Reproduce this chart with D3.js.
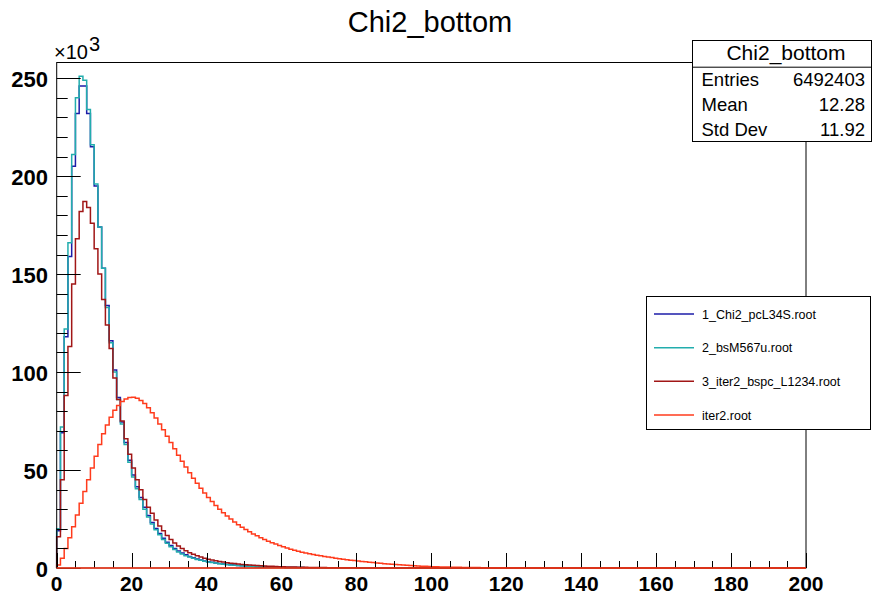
<!DOCTYPE html>
<html>
<head>
<meta charset="utf-8">
<script src="https://cdn.jsdelivr.net/npm/d3@7"></script>
<style>
  body { margin: 0; background: #fff; }
  svg { font-family: "Liberation Sans", Arial, Helvetica, sans-serif; }
  .tick-label { font-weight: bold; font-size: 22px; fill: #000; }
</style>
</head>
<body>
<svg id="chart" width="872" height="596"></svg>
<script>
// histogram contents, one entry per unit bin starting at 0, in units of 10^3 (bins not listed are empty)
let series_names = [
  "1_Chi2_pcL34S.root",
  "2_bsM567u.root",
  "3_iter2_bspc_L1234.root",
  "iter2.root"
]
let series_colors = ["#1c1ca8", "#22adad", "#a11616", "#ff3b1c"]

let vals_pcL34S = [
  19, 69, 118, 159, 205, 232, 246, 246, 232, 215, 195, 174, 153, 134, 116, 101, 87, 74.5, 64, 55,
  47.5, 41.5, 36, 31, 26.8, 23.2, 20.2, 17.6, 15.2, 13.2, 11.5, 10, 8.7, 7.6, 6.7, 5.9, 5.2, 4.6, 4.1, 3.6,
  3.2, 2.9, 2.6, 2.3, 2.05, 1.85, 1.65, 1.48, 1.32, 1.18, 1.05, 0.94, 0.84, 0.75, 0.67, 0.6, 0.54, 0.48, 0.43, 0.39,
  0.35, 0.31, 0.28, 0.25, 0.23, 0.21, 0.19, 0.17, 0.15, 0.14, 0.12
]
let vals_bsM567u = [
  20, 72, 122, 166, 211, 240, 251, 249, 234, 216, 196, 174, 153, 133, 115, 100, 86, 73.5, 63, 54,
  46.5, 40.5, 35, 30, 26, 22.5, 19.5, 17, 14.6, 12.6, 10.9, 9.4, 8.2, 7.2, 6.3, 5.6, 5, 4.4, 3.9, 3.5,
  3.1, 2.8, 2.5, 2.2, 1.95, 1.75, 1.55, 1.4, 1.25, 1.1, 0.98, 0.88, 0.78, 0.7, 0.63, 0.57, 0.51, 0.46, 0.42, 0.38,
  0.34, 0.31, 0.28, 0.25, 0.23, 0.21, 0.19, 0.17, 0.15, 0.14, 0.12
]
let vals_iter2_bspc = [
  16, 45, 88, 113, 145, 168, 182, 187, 184, 176, 163, 150, 137, 124, 112, 97, 86, 75, 66, 58,
  51, 45, 40, 35, 31, 28, 24.5, 21.5, 19, 16.6, 14.5, 12.7, 11.2, 9.9, 8.8, 7.8, 7, 6.2, 5.6, 5,
  4.5, 4.1, 3.7, 3.3, 3, 2.7, 2.45, 2.25, 2.05, 1.85, 1.68, 1.52, 1.38, 1.25, 1.13, 1.02, 0.92, 0.83, 0.75, 0.68,
  0.61, 0.55, 0.5, 0.45, 0.41, 0.37, 0.33, 0.3, 0.27, 0.24, 0.22, 0.2, 0.18, 0.16, 0.14, 0.13, 0.12, 0.11, 0.1, 0.09
]
let vals_iter2 = [
  1.5, 5, 10, 15.5, 21, 27, 33, 39, 45, 51, 57, 63, 68.5, 73, 77, 80.5, 83, 85, 86.3, 87,
  87.2, 86.6, 85.5, 84, 81.8, 79.3, 76.5, 73.5, 70.5, 67.3, 64, 60.8, 57.6, 54.5, 51.5, 48.6, 45.8, 43.2, 40.7, 38.3,
  36, 33.9, 31.9, 30, 28.2, 26.5, 25, 23.5, 22.1, 20.8, 19.6, 18.5, 17.4, 16.4, 15.4, 14.5, 13.7, 12.9, 12.2, 11.5,
  10.8, 10.2, 9.6, 9.1, 8.6, 8.1, 7.7, 7.3, 6.9, 6.5, 6.2, 5.9, 5.6, 5.3, 5, 4.75, 4.5, 4.25, 4, 3.8,
  3.6, 3.35, 3.15, 2.95, 2.75, 2.55, 2.4, 2.2, 2.05, 1.9, 1.75, 1.6, 1.48, 1.36, 1.24, 1.12, 1.02, 0.93, 0.85, 0.77,
  0.7, 0.63, 0.57, 0.51, 0.46, 0.41, 0.37, 0.33, 0.3, 0.27, 0.24, 0.22, 0.2, 0.18, 0.16, 0.15, 0.13, 0.12, 0.1, 0.09,
  0.08, 0.07, 0.06, 0.05, 0.04
]

let x_ticks = [0, 20, 40, 60, 80, 100, 120, 140, 160, 180, 200]
let y_ticks = [0, 50, 100, 150, 200, 250]

let stats_title = "Chi2_bottom"
let stats_rows = [["Entries", "6492403"], ["Mean", "12.28"], ["Std Dev", "11.92"]]

let svg = d3.select("#chart")
let nbins = 200

let frame = { left: 56.7, right: 806, top: 62.5, bottom: 568 }

let x = d3.scaleLinear().domain([0, 200]).range([frame.left, frame.right])
let y = d3.scaleLinear().domain([0, 258]).range([frame.bottom, frame.top])

// title
svg.append("text")
  .attr("x", 430).attr("y", 32)
  .attr("text-anchor", "middle")
  .style("font-size", "29px")
  .text("Chi2_bottom")

// histograms as steps
function stepPoints(vals) {
  let pts = [[x(0), y(0)]]
  for (let i = 0; i < nbins; i++) {
    let v = i < vals.length ? vals[i] : 0
    pts.push([x(i), y(v)])
    pts.push([x(i + 1), y(v)])
  }
  pts.push([x(nbins), y(0)])
  return pts
}

let all_vals = [vals_pcL34S, vals_bsM567u, vals_iter2_bspc, vals_iter2]
let line = d3.line()

svg.append("g")
  .selectAll("path")
  .data(all_vals)
  .join("path")
  .attr("d", d => line(stepPoints(d)))
  .attr("fill", "none")
  .attr("stroke", (d, i) => series_colors[i])
  .attr("stroke-width", 1.5)

// frame
svg.append("rect")
  .attr("x", frame.left).attr("y", frame.top)
  .attr("width", frame.right - frame.left)
  .attr("height", frame.bottom - frame.top)
  .attr("fill", "none")
  .attr("stroke", "#000")
  .attr("stroke-width", 1)

// y axis ticks (inside frame)
let yMinor = d3.range(0, 251, 10)
svg.append("g")
  .selectAll("line")
  .data(yMinor)
  .join("line")
  .attr("x1", frame.left)
  .attr("x2", d => frame.left + (d % 50 == 0 ? 24 : 11))
  .attr("y1", d => Math.round(y(d)) + 0.5)
  .attr("y2", d => Math.round(y(d)) + 0.5)
  .attr("stroke", "#000")

svg.append("g")
  .selectAll("text")
  .data(y_ticks)
  .join("text")
  .attr("class", "tick-label")
  .attr("x", 48)
  .attr("y", d => y(d) + 9)
  .attr("text-anchor", "end")
  .text(d => d)

// x axis ticks (pointing up)
let xMinor = d3.range(0, 201, 5)
svg.append("g")
  .selectAll("line")
  .data(xMinor)
  .join("line")
  .attr("x1", d => Math.round(x(d)) + 0.5)
  .attr("x2", d => Math.round(x(d)) + 0.5)
  .attr("y1", frame.bottom)
  .attr("y2", d => frame.bottom - (d % 20 == 0 ? 15 : 7))
  .attr("stroke", "#000")

svg.append("g")
  .selectAll("text")
  .data(x_ticks)
  .join("text")
  .attr("class", "tick-label")
  .attr("x", d => x(d))
  .attr("y", 591)
  .attr("text-anchor", "middle")
  .style("font-size", "21px")
  .text(d => d)

// zero-level line of the last histogram is drawn over the axis
svg.append("line")
  .attr("x1", x(0)).attr("x2", x(200))
  .attr("y1", y(0)).attr("y2", y(0))
  .attr("stroke", series_colors[3])
  .attr("stroke-width", 1.5)

// x10^3 multiplier
let mult = svg.append("text")
  .attr("x", 54).attr("y", 59)
  .style("font-size", "20px")
mult.append("tspan").text("\u00d710")
mult.append("tspan").attr("dy", -8).attr("dx", 1).style("font-size", "20px").text("3")

// stats box
let sb = { x: 692, y: 40, w: 179, h: 101, head: 26.7 }
svg.append("rect")
  .attr("x", sb.x + 0.5).attr("y", sb.y + 0.5)
  .attr("width", sb.w).attr("height", sb.h)
  .attr("fill", "#fff").attr("stroke", "#000")
svg.append("line")
  .attr("x1", sb.x).attr("x2", sb.x + sb.w)
  .attr("y1", sb.y + sb.head + 0.5).attr("y2", sb.y + sb.head + 0.5)
  .attr("stroke", "#000")
svg.append("text")
  .attr("x", 786).attr("y", 60)
  .attr("text-anchor", "middle")
  .style("font-size", "21px")
  .text(stats_title)

let rowH = (sb.h - sb.head) / stats_rows.length
stats_rows.forEach((r, i) => {
  let by = sb.y + sb.head + rowH * i + 19.5
  svg.append("text")
    .attr("x", 701.5).attr("y", by)
    .style("font-size", "18.5px")
    .text(r[0])
  svg.append("text")
    .attr("x", 865).attr("y", by)
    .attr("text-anchor", "end")
    .style("font-size", "18.5px")
    .text(r[1])
})

// legend
let lg = svg.append("g")
lg.append("rect")
  .attr("x", 646.5).attr("y", 296.5)
  .attr("width", 224).attr("height", 133)
  .attr("fill", "#fff").attr("stroke", "#000")

let legY = d3.scalePoint().domain(series_names).range([314, 415])

series_names.forEach((name, i) => {
  lg.append("line")
    .attr("x1", 654).attr("x2", 694)
    .attr("y1", legY(name)).attr("y2", legY(name))
    .attr("stroke", series_colors[i])
    .attr("stroke-width", 1.5)
  lg.append("text")
    .attr("x", 702).attr("y", legY(name) + 4.5)
    .style("font-size", "12.5px")
    .text(name)
})
</script>
</body>
</html>
